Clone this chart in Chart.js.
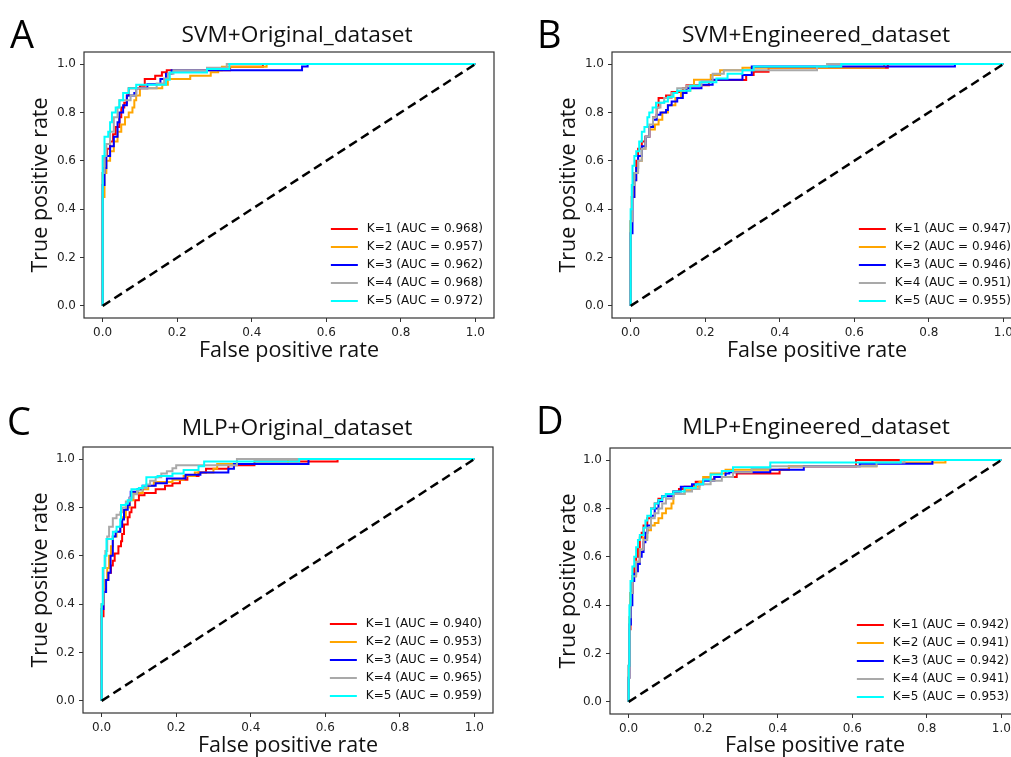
<!DOCTYPE html>
<html>
<head>
<meta charset="utf-8">
<script src="https://cdn.jsdelivr.net/npm/chart.js@4.4.1/dist/chart.umd.min.js"></script>
<style>
  html, body { margin: 0; background: #fff; }
  body { width: 1011px; height: 757px; overflow: hidden; position: relative; }
  canvas { position: absolute; }
</style>
</head>
<body>
<canvas id="panelA"></canvas>
<canvas id="panelB"></canvas>
<canvas id="panelC"></canvas>
<canvas id="panelD"></canvas>
<script>
// ROC curves as staircase corners [fpr, tpr], one array per K
const svmOrigK1 = [[0,0],[0,0.55],[0.005,0.62],[0.012,0.65],[0.02,0.68],[0.028,0.71],[0.035,0.74],[0.045,0.78],[0.05,0.82],[0.058,0.84],[0.065,0.87],[0.07,0.90],[0.10,0.91],[0.113,0.938],[0.141,0.952],[0.159,0.966],[0.172,0.975],[0.342,0.989],[0.43,1],[1,1]];
const svmOrigK2 = [[0,0],[0,0.45],[0.005,0.55],[0.01,0.6],[0.02,0.64],[0.03,0.68],[0.04,0.72],[0.05,0.75],[0.06,0.78],[0.07,0.80],[0.08,0.82],[0.085,0.85],[0.09,0.87],[0.10,0.90],[0.16,0.915],[0.175,0.938],[0.235,0.952],[0.29,0.966],[0.31,0.975],[0.32,0.989],[0.44,1],[1,1]];
const svmOrigK3 = [[0,0],[0,0.5],[0.005,0.57],[0.01,0.62],[0.02,0.66],[0.03,0.70],[0.04,0.76],[0.045,0.80],[0.055,0.83],[0.065,0.87],[0.085,0.88],[0.09,0.90],[0.12,0.917],[0.155,0.938],[0.17,0.96],[0.185,0.975],[0.535,0.99],[0.55,1],[1,1]];
const svmOrigK4 = [[0,0],[0,0.55],[0.005,0.62],[0.01,0.67],[0.02,0.72],[0.03,0.78],[0.04,0.82],[0.045,0.85],[0.075,0.87],[0.09,0.90],[0.145,0.92],[0.165,0.94],[0.175,0.96],[0.19,0.975],[0.28,0.985],[0.333,1],[1,1]];
const svmOrigK5 = [[0,0],[0,0.62],[0.005,0.70],[0.015,0.72],[0.02,0.76],[0.025,0.80],[0.035,0.82],[0.045,0.85],[0.055,0.88],[0.07,0.90],[0.09,0.915],[0.17,0.935],[0.18,0.965],[0.28,0.98],[0.34,1],[1,1]];

const svmEngK1 = [[0,0],[0,0.35],[0.003,0.45],[0.008,0.55],[0.015,0.6],[0.02,0.65],[0.03,0.68],[0.04,0.70],[0.05,0.74],[0.06,0.78],[0.07,0.82],[0.075,0.86],[0.095,0.87],[0.11,0.885],[0.14,0.90],[0.15,0.913],[0.21,0.934],[0.31,0.955],[0.33,0.968],[0.37,0.985],[0.69,1],[1,1]];
const svmEngK2 = [[0,0],[0,0.35],[0.004,0.45],[0.01,0.52],[0.015,0.56],[0.02,0.6],[0.03,0.65],[0.04,0.70],[0.05,0.73],[0.065,0.75],[0.075,0.77],[0.085,0.80],[0.10,0.83],[0.12,0.86],[0.135,0.89],[0.16,0.91],[0.17,0.935],[0.215,0.955],[0.24,0.975],[0.30,0.985],[0.68,1],[1,1]];
const svmEngK3 = [[0,0],[0,0.3],[0.005,0.45],[0.01,0.52],[0.015,0.57],[0.02,0.62],[0.03,0.66],[0.04,0.70],[0.05,0.74],[0.06,0.77],[0.07,0.79],[0.08,0.80],[0.095,0.81],[0.10,0.83],[0.11,0.845],[0.125,0.86],[0.14,0.88],[0.15,0.90],[0.19,0.915],[0.22,0.935],[0.30,0.955],[0.325,0.99],[0.87,1],[1,1]];
const svmEngK4 = [[0,0],[0,0.35],[0.005,0.5],[0.01,0.55],[0.02,0.6],[0.03,0.65],[0.04,0.70],[0.05,0.75],[0.06,0.78],[0.07,0.82],[0.08,0.84],[0.09,0.86],[0.11,0.88],[0.125,0.90],[0.15,0.91],[0.19,0.93],[0.22,0.96],[0.25,0.975],[0.50,0.99],[0.527,1],[1,1]];
const svmEngK5 = [[0,0],[0,0.4],[0.003,0.5],[0.005,0.58],[0.01,0.62],[0.015,0.64],[0.023,0.68],[0.03,0.72],[0.037,0.74],[0.045,0.78],[0.05,0.80],[0.059,0.82],[0.068,0.84],[0.09,0.845],[0.10,0.865],[0.115,0.88],[0.125,0.89],[0.16,0.91],[0.185,0.925],[0.23,0.94],[0.26,0.96],[0.30,0.975],[0.33,0.99],[0.565,1],[1,1]];

const mlpOrigK1 = [[0,0],[0,0.35],[0.005,0.45],[0.01,0.50],[0.018,0.53],[0.025,0.56],[0.03,0.58],[0.035,0.61],[0.045,0.64],[0.052,0.66],[0.055,0.69],[0.06,0.73],[0.07,0.76],[0.075,0.78],[0.08,0.80],[0.09,0.83],[0.10,0.85],[0.115,0.86],[0.145,0.875],[0.17,0.89],[0.19,0.90],[0.21,0.915],[0.23,0.93],[0.26,0.945],[0.28,0.96],[0.34,0.975],[0.41,0.99],[0.633,1],[1,1]];
const mlpOrigK2 = [[0,0],[0,0.4],[0.005,0.47],[0.01,0.5],[0.015,0.55],[0.02,0.6],[0.025,0.64],[0.03,0.68],[0.04,0.70],[0.05,0.72],[0.055,0.76],[0.065,0.80],[0.075,0.83],[0.085,0.86],[0.11,0.875],[0.125,0.89],[0.14,0.905],[0.19,0.915],[0.22,0.93],[0.25,0.945],[0.30,0.96],[0.31,0.98],[0.50,1],[1,1]];
const mlpOrigK3 = [[0,0],[0,0.38],[0.005,0.45],[0.012,0.5],[0.018,0.53],[0.024,0.60],[0.03,0.68],[0.0375,0.70],[0.05,0.72],[0.055,0.75],[0.06,0.79],[0.07,0.81],[0.075,0.84],[0.078,0.865],[0.096,0.875],[0.11,0.89],[0.145,0.90],[0.175,0.92],[0.225,0.935],[0.265,0.945],[0.34,0.96],[0.355,0.98],[0.555,1],[1,1]];
const mlpOrigK4 = [[0,0],[0,0.4],[0.005,0.55],[0.01,0.62],[0.015,0.68],[0.02,0.72],[0.03,0.755],[0.04,0.77],[0.05,0.78],[0.055,0.80],[0.065,0.825],[0.075,0.84],[0.085,0.855],[0.095,0.87],[0.11,0.88],[0.12,0.895],[0.13,0.91],[0.145,0.925],[0.16,0.94],[0.175,0.95],[0.19,0.962],[0.20,0.975],[0.363,1],[1,1]];
const mlpOrigK5 = [[0,0],[0,0.4],[0.003,0.55],[0.008,0.6],[0.013,0.67],[0.03,0.7],[0.04,0.72],[0.05,0.75],[0.052,0.81],[0.065,0.815],[0.07,0.83],[0.08,0.875],[0.10,0.88],[0.11,0.89],[0.12,0.925],[0.15,0.93],[0.19,0.94],[0.22,0.955],[0.26,0.97],[0.275,0.99],[0.53,1],[1,1]];

const mlpEngK1 = [[0,0],[0,0.15],[0.002,0.3],[0.005,0.45],[0.01,0.52],[0.015,0.56],[0.02,0.6],[0.025,0.64],[0.03,0.68],[0.035,0.70],[0.04,0.73],[0.05,0.76],[0.06,0.80],[0.07,0.82],[0.08,0.84],[0.09,0.85],[0.10,0.86],[0.12,0.87],[0.135,0.88],[0.15,0.89],[0.17,0.895],[0.18,0.91],[0.20,0.92],[0.23,0.93],[0.29,0.945],[0.405,0.96],[0.43,0.975],[0.61,1],[1,1]];
const mlpEngK2 = [[0,0],[0,0.1],[0.002,0.35],[0.004,0.45],[0.01,0.52],[0.02,0.58],[0.03,0.63],[0.04,0.68],[0.05,0.71],[0.06,0.73],[0.07,0.74],[0.08,0.76],[0.09,0.78],[0.10,0.80],[0.115,0.82],[0.12,0.86],[0.15,0.875],[0.17,0.89],[0.19,0.91],[0.20,0.93],[0.22,0.945],[0.26,0.96],[0.43,0.975],[0.665,0.99],[0.85,1],[1,1]];
const mlpEngK3 = [[0,0],[0,0.1],[0.002,0.32],[0.006,0.4],[0.01,0.5],[0.015,0.53],[0.02,0.54],[0.025,0.57],[0.03,0.6],[0.035,0.62],[0.04,0.66],[0.045,0.70],[0.05,0.73],[0.06,0.77],[0.07,0.80],[0.08,0.83],[0.09,0.85],[0.12,0.87],[0.14,0.89],[0.17,0.90],[0.20,0.915],[0.23,0.93],[0.26,0.945],[0.27,0.95],[0.38,0.96],[0.47,0.975],[0.62,0.985],[0.815,1],[1,1]];
const mlpEngK4 = [[0,0],[0,0.1],[0.002,0.35],[0.005,0.45],[0.01,0.52],[0.02,0.58],[0.03,0.63],[0.04,0.67],[0.05,0.72],[0.06,0.76],[0.07,0.78],[0.08,0.80],[0.09,0.82],[0.10,0.84],[0.12,0.86],[0.15,0.87],[0.17,0.88],[0.19,0.90],[0.22,0.915],[0.25,0.93],[0.28,0.95],[0.33,0.965],[0.38,0.975],[0.665,0.99],[0.74,1],[1,1]];
const mlpEngK5 = [[0,0],[0,0.15],[0.002,0.4],[0.005,0.5],[0.01,0.56],[0.015,0.6],[0.02,0.64],[0.025,0.67],[0.03,0.69],[0.04,0.72],[0.045,0.75],[0.05,0.77],[0.06,0.80],[0.07,0.82],[0.08,0.835],[0.09,0.85],[0.10,0.86],[0.12,0.87],[0.15,0.885],[0.18,0.90],[0.20,0.92],[0.22,0.94],[0.25,0.955],[0.28,0.97],[0.38,0.99],[0.73,1],[1,1]];

const aucSvmOrig = [0.968, 0.957, 0.962, 0.968, 0.972];
const aucSvmEng = [0.947, 0.946, 0.946, 0.951, 0.955];
const aucMlpOrig = [0.940, 0.953, 0.954, 0.965, 0.959];
const aucMlpEng = [0.942, 0.941, 0.942, 0.941, 0.953];

const kValues = [1, 2, 3, 4, 5];
const chanceLine = [[0, 0], [1, 1]];
const rateTicks = [0, 0.2, 0.4, 0.6, 0.8, 1.0];

const curveColors = ['#ff0000', '#ffa500', '#0000ff', '#a9a9a9', '#00ffff'];
const labelFont = '"Open Sans", "DejaVu Sans", sans-serif';
const tickFont = '"DejaVu Sans", sans-serif';
const axisTitleSize = 21.5;
const panelTitleSize = 22.7;

// page layout: canvas box [x, y, w, h] and plot frame [left, top, right, bottom] in page pixels
const panels = [
  { id: 'panelA', letter: 'A', title: 'SVM+Original_dataset', curves: [svmOrigK1, svmOrigK2, svmOrigK3, svmOrigK4, svmOrigK5], auc: aucSvmOrig,
    box: [0, 0, 505, 385], plot: [84, 52, 494, 318], letterAt: [10, 48], titleAt: [297, 42], yTitleMid: 41, xTitleBase: 359 },
  { id: 'panelB', letter: 'B', title: 'SVM+Engineered_dataset', curves: [svmEngK1, svmEngK2, svmEngK3, svmEngK4, svmEngK5], auc: aucSvmEng,
    box: [505, 0, 530, 385], plot: [612, 52, 1022, 318], letterAt: [537, 48], titleAt: [816, 42], yTitleMid: 569, xTitleBase: 359 },
  { id: 'panelC', letter: 'C', title: 'MLP+Original_dataset', curves: [mlpOrigK1, mlpOrigK2, mlpOrigK3, mlpOrigK4, mlpOrigK5], auc: aucMlpOrig,
    box: [0, 385, 505, 372], plot: [83, 447, 493, 713], letterAt: [7, 435], titleAt: [297, 435], yTitleMid: 41, xTitleBase: 754 },
  { id: 'panelD', letter: 'D', title: 'MLP+Engineered_dataset', curves: [mlpEngK1, mlpEngK2, mlpEngK3, mlpEngK4, mlpEngK5], auc: aucMlpEng,
    box: [505, 385, 530, 372], plot: [610, 448, 1020, 714], letterAt: [536, 434], titleAt: [816, 434], yTitleMid: 569, xTitleBase: 754 }
];

// frame, inner legend, panel letter and title
const rocDecor = {
  id: 'rocDecor',
  afterDatasetsDraw(chart, args, opts) {
    const { ctx, chartArea: a } = chart;
    ctx.save();
    ctx.strokeStyle = '#333';
    ctx.lineWidth = 1.2;
    ctx.strokeRect(a.left, a.top, a.right - a.left, a.bottom - a.top);

    const items = chart.data.datasets.filter(d => d.label);
    ctx.font = '12px ' + tickFont;
    ctx.textBaseline = 'middle';
    ctx.textAlign = 'left';
    const textW = Math.max(...items.map(d => ctx.measureText(d.label).width));
    const textX = a.right - 11 - textW;
    items.forEach((d, i) => {
      const y = a.bottom - 17 - (items.length - 1 - i) * 18;
      ctx.strokeStyle = d.borderColor;
      ctx.lineWidth = 2;
      ctx.beginPath();
      ctx.moveTo(textX - 36, y);
      ctx.lineTo(textX - 9, y);
      ctx.stroke();
      ctx.fillStyle = '#111';
      ctx.fillText(d.label, textX, y);
    });

    ctx.fillStyle = '#000';
    ctx.textBaseline = 'alphabetic';
    ctx.font = '38px ' + labelFont;
    ctx.fillText(opts.letter, opts.letterAt[0] - opts.originX, opts.letterAt[1] - opts.originY);
    ctx.font = panelTitleSize + 'px ' + labelFont;
    ctx.textAlign = 'center';
    ctx.fillStyle = '#111';
    ctx.fillText(opts.title, opts.titleAt[0] - opts.originX, opts.titleAt[1] - opts.originY);
    ctx.restore();
  }
};

function makePanel(p) {
  const [bx, by, bw, bh] = p.box;
  const [pl, pt, pr, pb] = p.plot;
  const canvas = document.getElementById(p.id);
  canvas.width = bw;
  canvas.height = bh;
  canvas.style.left = bx + 'px';
  canvas.style.top = by + 'px';

  const datasets = p.curves.map((pts, i) => ({
    label: `K=${kValues[i]} (AUC = ${p.auc[i].toFixed(3)})`,
    data: pts.map(([x, y]) => ({ x, y })),
    borderColor: curveColors[i],
    borderWidth: 2,
    stepped: 'before',
    pointRadius: 0,
    order: 5 - i
  }));
  datasets.push({
    data: chanceLine.map(([x, y]) => ({ x, y })),
    borderColor: '#000',
    borderWidth: 2.5,
    borderDash: [9, 5],
    pointRadius: 0,
    order: 0
  });

  const axisCommon = {
    type: 'linear',
    min: -0.05,
    max: 1.05,
    afterBuildTicks: s => { s.ticks = rateTicks.map(v => ({ value: v })); },
    grid: { display: true, drawOnChartArea: false, drawTicks: true, tickLength: 4, tickColor: '#333' },
    border: { display: false },
    ticks: {
      autoSkip: false, maxRotation: 0, padding: 4, color: '#222',
      font: { family: tickFont, size: 12 },
      callback: v => v.toFixed(1)
    }
  };

  // scale titles are drawn on a 'middle' baseline, half a line box from the padding edge
  const halfLine = axisTitleSize * 0.6;
  const midToBase = axisTitleSize * 0.39;

  new Chart(canvas, {
    type: 'line',
    data: { datasets },
    options: {
      responsive: false,
      animation: false,
      layout: { padding: { left: 0, top: pt - by, right: bx + bw - pr, bottom: 0 } },
      plugins: {
        legend: { display: false },
        tooltip: { enabled: false },
        rocDecor: { letter: p.letter, title: p.title, letterAt: p.letterAt, titleAt: p.titleAt, originX: bx, originY: by }
      },
      scales: {
        x: Object.assign({}, axisCommon, {
          position: 'bottom',
          afterFit: s => { s.height = by + bh - pb; },
          title: {
            display: true, text: 'False positive rate', color: '#111',
            font: { family: labelFont, size: axisTitleSize },
            padding: { top: 0, bottom: by + bh - (p.xTitleBase - midToBase) - halfLine }
          }
        }),
        y: Object.assign({}, axisCommon, {
          position: 'left',
          afterFit: s => { s.width = pl - bx; },
          title: {
            display: true, text: 'True positive rate', color: '#111',
            font: { family: labelFont, size: axisTitleSize },
            padding: { top: p.yTitleMid - bx - halfLine, bottom: 0 }
          }
        })
      }
    },
    plugins: [rocDecor]
  });
}

panels.forEach(makePanel);
</script>
</body>
</html>
